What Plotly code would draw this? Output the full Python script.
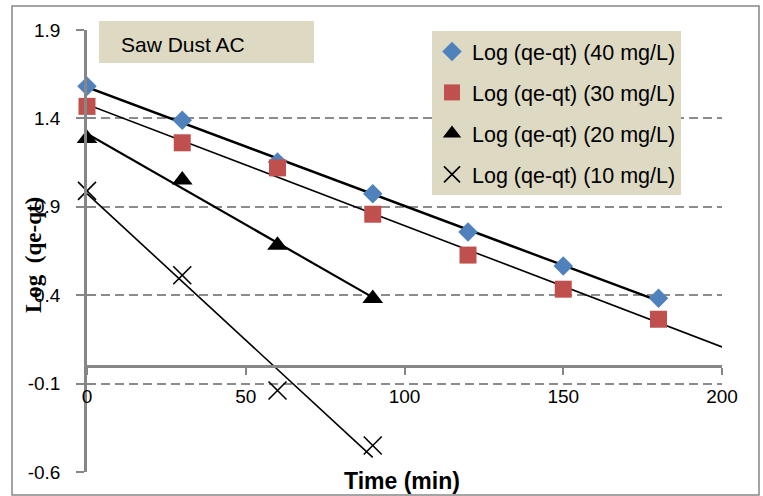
import numpy as np
import plotly.graph_objects as go

# ---- data ----
time_min = [0, 30, 60, 90, 120, 150, 180]
log_40 = [1.582, 1.389, 1.154, 0.974, 0.758, 0.565, 0.383]
log_30 = [1.468, 1.262, 1.120, 0.858, 0.627, 0.434, 0.264]
time_short = [0, 30, 60, 90]
log_20 = [1.287, 1.051, 0.683, 0.381]
log_10 = [0.990, 0.513, -0.139, -0.450]
series_names = ["Log (qe-qt) (40 mg/L)", "Log (qe-qt) (30 mg/L)",
                "Log (qe-qt) (20 mg/L)", "Log (qe-qt) (10 mg/L)"]
trend_end = [180, 200, 90, 90]
x_ticks = [0, 50, 100, 150, 200]
y_ticks = [-0.6, -0.1, 0.4, 0.9, 1.4, 1.9]

W, H = 763, 496
L, R, T, B = 87, 41, 30, 24
pw, ph = W - L - R, H - T - B


def fx(px):
    return (px - L) / pw


def fy(py):
    return (H - B - py) / ph


xs = [time_min, time_min, time_short, time_short]
ys = [log_40, log_30, log_20, log_10]
markers = [
    dict(symbol="diamond", size=15, color="#4F81BD"),
    dict(symbol="square", size=17, color="#C0504D"),
    dict(symbol="triangle-up", size=18, color="black"),
    dict(symbol="x-thin", size=18, color="black", line=dict(width=1.6, color="black")),
]
trend_w = [2.4, 1.6, 2.2, 1.6]

fig = go.Figure()
for i in range(4):
    k, b0 = np.polyfit(xs[i], ys[i], 1)
    tx = [0, trend_end[i]]
    ty = [b0, b0 + k * trend_end[i]]
    fig.add_trace(go.Scatter(x=tx, y=ty, mode="lines", showlegend=False,
                             line=dict(color="black", width=trend_w[i]),
                             hoverinfo="skip", cliponaxis=False))
for i in range(4):
    fig.add_trace(go.Scatter(x=xs[i], y=ys[i], mode="markers", name=series_names[i],
                             marker=markers[i], legendgroup=str(i), cliponaxis=False))

grid_color = "#8C8C8C"
axis_color = "#868686"

fig.update_layout(
    width=W, height=H,
    margin=dict(l=L, r=R, t=T, b=B, pad=0),
    paper_bgcolor="white", plot_bgcolor="white",
    font=dict(family="Liberation Sans, Arial", size=19, color="black"),
    xaxis=dict(range=[0, 200], tickvals=x_ticks, ticktext=[str(v) for v in x_ticks],
               showgrid=False, zeroline=False, showline=True, linecolor=axis_color,
               linewidth=2.5, ticks="outside", ticklen=7, tickwidth=2, tickcolor=axis_color,
               anchor="free", position=(0 - (-0.6)) / 2.5, ticklabelstandoff=6,
               tickfont=dict(size=19)),
    yaxis=dict(range=[-0.6, 1.9], tickvals=y_ticks, ticktext=[f"{v:.1f}" for v in y_ticks],
               showgrid=True, gridcolor=grid_color, gridwidth=1.6, griddash="9px,5px",
               zeroline=False, showline=True, linecolor=axis_color, linewidth=2.5,
               ticks="outside", ticklen=8, tickwidth=2, tickcolor=axis_color,
               ticklabelstandoff=12, tickfont=dict(size=19)),
    yaxis2=dict(range=[-0.6, 1.9], overlaying="y", tickvals=y_ticks, showticklabels=False,
                showgrid=False, zeroline=False, ticks="inside", ticklen=8, tickwidth=2,
                tickcolor=axis_color, side="left"),
    legend=dict(x=fx(432), y=fy(31), xanchor="left", yanchor="top",
                bgcolor="#DDD9C3", borderwidth=0,
                font=dict(family="Liberation Sans, Arial", size=21.5),
                tracegroupgap=10, itemwidth=30),
    showlegend=True,
)

fig.add_trace(go.Scatter(x=[None], y=[None], yaxis="y2", showlegend=False))

shapes = [
    dict(type="rect", xref="paper", yref="paper", x0=fx(12), x1=fx(759), y0=fy(495), y1=fy(6),
         line=dict(color=axis_color, width=1.5), fillcolor="rgba(0,0,0,0)", layer="below"),
    dict(type="rect", xref="paper", yref="paper", x0=fx(99), x1=fx(314), y0=fy(63), y1=fy(21),
         line=dict(width=0), fillcolor="#DDD9C3", layer="above"),
]
fig.update_layout(shapes=shapes)

fig.add_annotation(text="Saw Dust AC", xref="paper", yref="paper", x=fx(119), y=fy(44),
                   xanchor="left", yanchor="middle", showarrow=False,
                   font=dict(family="Liberation Sans, Arial", size=21, color="black"))
fig.add_annotation(text="<b>Time (min)</b>", xref="paper", yref="paper", x=fx(402), y=fy(481),
                   xanchor="center", yanchor="middle", showarrow=False,
                   font=dict(family="Liberation Sans, Arial", size=23, color="black"))
fig.add_annotation(text="<b>Log  (qe-qt)</b>", xref="paper", yref="paper", x=fx(33), y=fy(255),
                   xanchor="center", yanchor="middle", showarrow=False, textangle=-90,
                   font=dict(family="Liberation Serif, Times New Roman", size=23, color="black"))

fig.write_html("out.html")
